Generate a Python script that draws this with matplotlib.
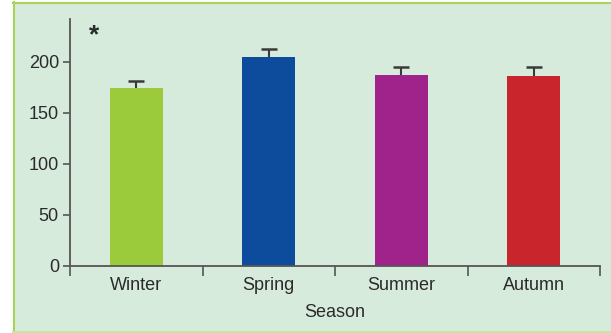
import matplotlib
matplotlib.use("Agg")
import matplotlib.pyplot as plt
from matplotlib.patches import Rectangle

categories = ["Winter", "Spring", "Summer", "Autumn"]
values = [174, 205, 187, 186]
errors = [7, 7.5, 8, 9]
colors = ["#9BCB3B", "#0D4C9D", "#A0228B", "#C9252C"]
yticks = [0, 50, 100, 150, 200]

plt.rcParams['font.family'] = ['Liberation Sans', 'DejaVu Sans']

W, H = 611, 333
fig = plt.figure(figsize=(W/100, H/100), dpi=100)
fig.patch.set_facecolor("white")
bg = "#D7EBDD"
# background panel with green border
fig.patches.append(Rectangle((13/W, 1/H), 1 - 13/W, 1 - 3/H, transform=fig.transFigure,
                             facecolor=bg, edgecolor="none", zorder=-5))
fig.add_artist(plt.Line2D([13.5/W, 13.5/W], [1/H, 1 - 2/H], color="#A8D45A", lw=1.5, transform=fig.transFigure, zorder=-4))
fig.add_artist(plt.Line2D([13/W, 1], [1 - 2.5/H, 1 - 2.5/H], color="#A8D45A", lw=1.5, transform=fig.transFigure, zorder=-4))
fig.add_artist(plt.Line2D([13/W, 1], [1.5/H, 1.5/H], color="#C8E6A0", lw=1.5, transform=fig.transFigure, zorder=-4))

left, right = 70, 600
bottom, top = 266, 19
ax = fig.add_axes([left/W, 1 - bottom/H, (right-left)/W, (bottom-top)/H])
ax.set_facecolor("none")
ax.set_zorder(1)

x = list(range(len(categories)))
ax.bar(x, values, width=0.4, color=colors, zorder=2)
eb = ax.errorbar(x, values, yerr=[[0]*4, errors], fmt="none", ecolor="#3a3a3a",
                 elinewidth=1.5, capsize=6, capthick=1.8, zorder=3)
# keep only the upper caps
eb[1][0].set_visible(False)

ax.set_xlim(-0.5, len(categories) - 0.5)
ax.set_ylim(0, 242)
ax.set_yticks(yticks)
ax.set_xticks([i - 0.5 for i in range(len(categories) + 1)], minor=False)
ax.set_xticklabels([""] * (len(categories) + 1))
ax.set_xticks(x, minor=True)
ax.set_xticklabels(categories, minor=True)
ax.tick_params(axis="x", which="major", length=7, width=1.2, color="#555555", direction="out")
ax.tick_params(axis="x", which="minor", length=0, pad=8, labelsize=13, labelcolor="#2a2a2a")
ax.tick_params(axis="y", length=5, width=1.2, color="#555555", labelsize=13, labelcolor="#2a2a2a", pad=3)

for s in ["top", "right"]:
    ax.spines[s].set_visible(False)
for s in ["left", "bottom"]:
    ax.spines[s].set_color("#555555")
    ax.spines[s].set_linewidth(1.3)

ax.set_xlabel("Season", fontsize=13, color="#2a2a2a", labelpad=7)
fig.text(94/W, 1 - 35/H, "*", fontsize=19, fontweight="bold", color="#2a2a2a", ha="center", va="center", zorder=5)

fig.savefig("out.png", dpi=100, facecolor=fig.get_facecolor())
